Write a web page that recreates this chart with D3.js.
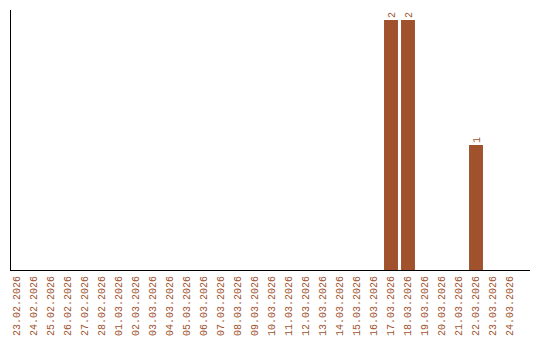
<!DOCTYPE html>
<html>
<head>
<meta charset="utf-8">
<script src="https://cdn.jsdelivr.net/npm/d3@7"></script>
<style>
  body { margin: 0; background: #fff; }
  text { font-family: "Liberation Mono", monospace; font-size: 10px; fill: #a0522d; }
</style>
</head>
<body>
<div id="chart"></div>
<script>
// dates shown on the x axis
const dates = [
  "23.02.2026", "24.02.2026", "25.02.2026", "26.02.2026", "27.02.2026", "28.02.2026",
  "01.03.2026", "02.03.2026", "03.03.2026", "04.03.2026", "05.03.2026", "06.03.2026",
  "07.03.2026", "08.03.2026", "09.03.2026", "10.03.2026", "11.03.2026", "12.03.2026",
  "13.03.2026", "14.03.2026", "15.03.2026", "16.03.2026", "17.03.2026", "18.03.2026",
  "19.03.2026", "20.03.2026", "21.03.2026", "22.03.2026", "23.03.2026", "24.03.2026"
];
const counts = [
  0, 0, 0, 0, 0, 0,
  0, 0, 0, 0, 0, 0,
  0, 0, 0, 0, 0, 0,
  0, 0, 0, 0, 2, 2,
  0, 0, 0, 1, 0, 0
];

const width = 540, height = 340;
const margin = {top: 10, right: 10, bottom: 70, left: 10};
const data = dates.map((d, i) => ({date: d, count: counts[i]}));

const svg = d3.select('#chart').append('svg')
  .attr('width', width)
  .attr('height', height);

const x = d3.scaleBand()
  .domain(dates)
  .range([8.5, 518.5])
  .paddingInner(0.18)
  .paddingOuter(0.09);

const y = d3.scaleLinear()
  .domain([0, 2])
  .range([height - margin.bottom, 20]);

const base = height - margin.bottom;

// bars
svg.selectAll('.bar').data(data.filter(d => d.count > 0))
  .join('rect')
  .attr('class', 'bar')
  .attr('x', d => x(d.date))
  .attr('width', x.bandwidth())
  .attr('y', d => y(d.count))
  .attr('height', d => base - y(d.count))
  .attr('fill', '#a0522d');

// value labels
svg.selectAll('.val').data(data.filter(d => d.count > 0))
  .join('text')
  .attr('class', 'val')
  .attr('transform', d => `translate(${x(d.date) + x.bandwidth() / 2 + 3.5},${y(d.count) - 2}) rotate(-90)`)
  .attr('text-anchor', 'start')
  .text(d => d.count);

// x axis
const xAxis = d3.axisBottom(x).tickSize(0).tickPadding(0);
const xg = svg.append('g')
  .attr('transform', `translate(0,${base})`)
  .call(xAxis);
xg.select('.domain').remove();
xg.selectAll('text')
  .attr('transform', 'rotate(-90)')
  .attr('text-anchor', 'end')
  .attr('x', -6)
  .attr('y', 0)
  .attr('dy', '0.32em')
  .attr('fill', '#a0522d')
  .style('font-size', '10px')
  .style('font-family', '"Liberation Mono", monospace');

// axis lines
svg.append('line')
  .attr('x1', 10.5).attr('x2', 10.5)
  .attr('y1', margin.top).attr('y2', base)
  .attr('stroke', '#000').attr('stroke-width', 1);
svg.append('line')
  .attr('x1', 10).attr('x2', width - margin.right)
  .attr('y1', base + 0.5).attr('y2', base + 0.5)
  .attr('stroke', '#000').attr('stroke-width', 1);
</script>
</body>
</html>
